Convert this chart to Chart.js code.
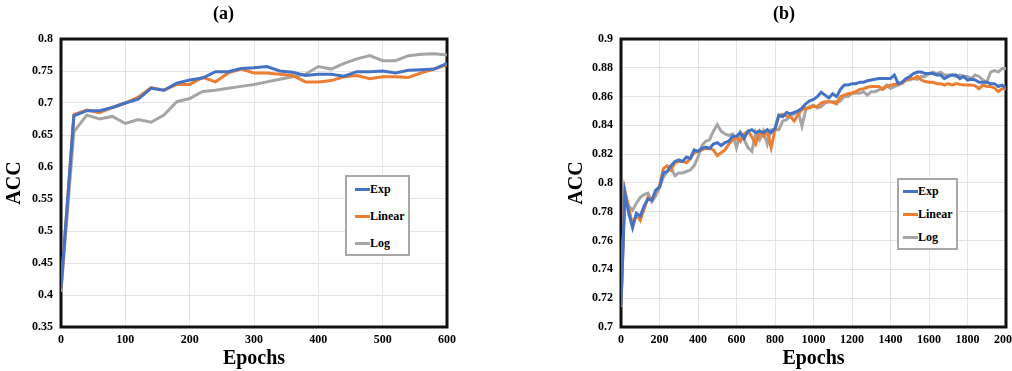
<!DOCTYPE html>
<html>
<head>
<meta charset="utf-8">
<script src="https://cdn.jsdelivr.net/npm/chart.js@4.4.0/dist/chart.umd.min.js"></script>
<style>
    html, body { margin: 0; padding: 0; background: #fff; }
    body { position: relative; width: 1012px; height: 371px; overflow: hidden; }
    .wrap { position: absolute; top: 0; height: 371px; }
    #wrapA { left: 0; width: 494px; }
    #wrapB { left: 562px; width: 500px; }
    .legend { position: absolute; background: #fff; border: 2px solid #a8a8a8; box-sizing: border-box;
              font: bold 12px 'Liberation Serif', 'Times New Roman', serif; color: #000; }
    .legend .item { position: absolute; height: 16px; display: flex; align-items: center; white-space: nowrap; }
    .legend .swatch { display: inline-block; height: 3px; }
</style>
</head>
<body>
<div class="wrap" id="wrapA"><canvas id="chartA"></canvas></div>
<div class="wrap" id="wrapB"><canvas id="chartB"></canvas></div>
<script>
const seriesNames = ['Exp', 'Linear', 'Log'];
const seriesColors = ['#4472C4', '#ED7D31', '#A5A5A5'];

// (a) 0..600 epochs
const epochsA = [0, 20, 40, 60, 80, 100, 120, 140, 160, 180, 200, 220, 240, 260, 280, 300,
    320, 340, 360, 380, 400, 420, 440, 460, 480, 500, 520, 540, 560, 580, 600];
const expA = [0.41, 0.680, 0.688, 0.688, 0.693, 0.700, 0.706, 0.723, 0.720, 0.731, 0.736, 0.739,
    0.749, 0.749, 0.754, 0.755, 0.757, 0.750, 0.748, 0.743, 0.745, 0.745, 0.742, 0.749, 0.749,
    0.750, 0.747, 0.751, 0.752, 0.753, 0.762];
const linearA = [0.41, 0.682, 0.689, 0.685, 0.693, 0.700, 0.709, 0.724, 0.720, 0.729, 0.729, 0.740,
    0.733, 0.747, 0.753, 0.747, 0.747, 0.745, 0.743, 0.733, 0.733, 0.735, 0.741, 0.743, 0.738,
    0.741, 0.741, 0.740, 0.747, 0.753, 0.760];
const logA = [0.405, 0.655, 0.681, 0.675, 0.679, 0.668, 0.674, 0.670, 0.681, 0.702, 0.707, 0.718,
    0.720, 0.723, 0.726, 0.729, 0.733, 0.737, 0.741, 0.745, 0.757, 0.753, 0.762, 0.769, 0.774,
    0.766, 0.766, 0.774, 0.776, 0.777, 0.775];

// (b) 0..2000 epochs
const epochsB = [0, 20, 40, 60, 80, 100, 120, 140, 160, 180,
    200, 220, 240, 260, 280, 300, 320, 340, 360, 380,
    400, 420, 440, 460, 480, 500, 520, 540, 560, 580,
    600, 620, 640, 660, 680, 700, 720, 740, 760, 780,
    800, 820, 840, 860, 880, 900, 920, 940, 960, 980,
    1000, 1020, 1040, 1060, 1080, 1100, 1120, 1140, 1160, 1180,
    1200, 1220, 1240, 1260, 1280, 1300, 1320, 1340, 1360, 1380,
    1400, 1420, 1440, 1460, 1480, 1500, 1520, 1540, 1560, 1580,
    1600, 1620, 1640, 1660, 1680, 1700, 1720, 1740, 1760, 1780,
    1800, 1820, 1840, 1860, 1880, 1900, 1920, 1940, 1960, 1980,
    2000];
const expB = [0.715, 0.793, 0.779, 0.769, 0.779, 0.777, 0.784, 0.789, 0.788, 0.795,
    0.797, 0.807, 0.808, 0.812, 0.815, 0.816, 0.815, 0.818, 0.817, 0.823,
    0.822, 0.824, 0.825, 0.824, 0.827, 0.828, 0.826, 0.828, 0.829, 0.8325,
    0.8325, 0.835, 0.831, 0.836, 0.837, 0.835, 0.836, 0.835, 0.837, 0.835,
    0.838, 0.847, 0.846, 0.849, 0.848, 0.849, 0.850, 0.852, 0.855, 0.857,
    0.858, 0.860, 0.863, 0.861, 0.859, 0.862, 0.860, 0.865, 0.868, 0.868,
    0.869, 0.869, 0.870, 0.870, 0.871, 0.8715, 0.872, 0.8725, 0.8725, 0.8725,
    0.8725, 0.875, 0.869, 0.870, 0.8725, 0.874, 0.876, 0.877, 0.877, 0.876,
    0.876, 0.876, 0.875, 0.875, 0.8725, 0.874, 0.875, 0.875, 0.8725, 0.874,
    0.8715, 0.872, 0.8715, 0.870, 0.870, 0.870, 0.869, 0.869, 0.867, 0.868,
    0.866];
const linearB = [0.716, 0.795, 0.783, 0.771, 0.778, 0.774, 0.782, 0.790, 0.788, 0.794,
    0.798, 0.810, 0.812, 0.809, 0.814, 0.815, 0.815, 0.814, 0.817, 0.821,
    0.822, 0.823, 0.824, 0.824, 0.823, 0.819, 0.821, 0.823, 0.827, 0.830,
    0.8315, 0.829, 0.834, 0.836, 0.832, 0.827, 0.836, 0.8325, 0.836, 0.8245,
    0.837, 0.847, 0.8475, 0.8465, 0.846, 0.843, 0.8475, 0.851, 0.852, 0.852,
    0.8535, 0.853, 0.8555, 0.8565, 0.8565, 0.856, 0.855, 0.860, 0.861, 0.862,
    0.8625, 0.8635, 0.865, 0.8655, 0.8665, 0.867, 0.867, 0.867, 0.865, 0.867,
    0.868, 0.8685, 0.869, 0.8695, 0.8715, 0.8725, 0.8725, 0.874, 0.8715, 0.8705,
    0.870, 0.870, 0.869, 0.869, 0.868, 0.869, 0.868, 0.869, 0.8685, 0.868,
    0.868, 0.868, 0.8675, 0.8655, 0.868, 0.867, 0.867, 0.866, 0.8635, 0.8655,
    0.8655];
const logB = [0.714, 0.791, 0.784, 0.781, 0.786, 0.790, 0.792, 0.793, 0.787, 0.791,
    0.797, 0.804, 0.808, 0.8105, 0.805, 0.807, 0.807, 0.808, 0.809, 0.812,
    0.818, 0.826, 0.829, 0.830, 0.836, 0.8405, 0.836, 0.834, 0.833, 0.834,
    0.8245, 0.835, 0.830, 0.8245, 0.822, 0.835, 0.830, 0.836, 0.827, 0.837,
    0.837, 0.837, 0.843, 0.844, 0.8465, 0.848, 0.850, 0.8395, 0.851, 0.853,
    0.854, 0.852, 0.853, 0.8555, 0.8565, 0.8565, 0.8565, 0.857, 0.860, 0.860,
    0.8623, 0.8623, 0.8623, 0.8634, 0.861, 0.8634, 0.8634, 0.8646, 0.8657, 0.868,
    0.8657, 0.8669, 0.868, 0.8692, 0.8715, 0.8715, 0.8726, 0.872, 0.874, 0.874,
    0.876, 0.877, 0.876, 0.877, 0.875, 0.875, 0.875, 0.874, 0.875, 0.874,
    0.874, 0.8726, 0.875, 0.874, 0.8715, 0.870, 0.877, 0.878, 0.877, 0.8795,
    0.8795];

const FONT = "'Liberation Serif', 'Times New Roman', serif";

// black frame around the plot area
const frame = {
    id: 'frame',
    beforeDatasetsDraw(chart) {
        const { ctx, chartArea: a } = chart;
        ctx.save();
        ctx.strokeStyle = '#111';
        ctx.lineWidth = 3;
        ctx.strokeRect(a.left, a.top, a.right - a.left, a.bottom - a.top);
        ctx.restore();
    }
};

function makeDatasets(epochs, lists) {
    return lists.map((vals, i) => ({
        label: seriesNames[i],
        data: vals.map((v, j) => ({ x: epochs[j], y: v })),
        borderColor: seriesColors[i],
        backgroundColor: seriesColors[i],
        borderWidth: 3,
        pointRadius: 0,
        tension: 0
    }));
}

function tickLabel(v) {
    return String(Number(v.toFixed(2)));
}

function makeChart(id, title, epochs, lists, xMax, xStep, yMin, yMax, yStep, yAxisWidth, rightPad) {
    return new Chart(document.getElementById(id), {
        type: 'line',
        data: { datasets: makeDatasets(epochs, lists) },
        plugins: [frame],
        options: {
            responsive: true,
            maintainAspectRatio: false,
            animation: false,
            layout: { padding: { left: 0, right: rightPad, top: 0, bottom: 0 } },
            plugins: {
                legend: { display: false },
                tooltip: { enabled: false },
                title: {
                    display: true,
                    text: title,
                    color: '#000',
                    font: { family: FONT, size: 18, weight: 'bold', lineHeight: 1.2 },
                    padding: { top: 4, bottom: 13.4 }
                }
            },
            scales: {
                x: {
                    type: 'linear',
                    min: 0,
                    max: xMax,
                    ticks: { stepSize: xStep, color: '#000', padding: 6, maxRotation: 0,
                             callback: v => String(v),
                             font: { family: FONT, size: 12, weight: 'bold' } },
                    grid: { color: '#e4e4e4', drawTicks: false },
                    border: { display: false },
                    title: { display: true, text: 'Epochs', color: '#000', padding: { top: 0, bottom: 0 },
                             font: { family: FONT, size: 20, weight: 'bold', lineHeight: 1.2 } },
                    afterFit(scale) { scale.height = 44; }
                },
                y: {
                    min: yMin,
                    max: yMax,
                    ticks: { stepSize: yStep, color: '#000', padding: 8, callback: tickLabel,
                             font: { family: FONT, size: 12, weight: 'bold' } },
                    grid: { color: '#e4e4e4', drawTicks: false },
                    border: { display: false },
                    title: { display: true, text: 'ACC', color: '#000', padding: { top: 3, bottom: 0 },
                             font: { family: FONT, size: 20, weight: 'bold', lineHeight: 1.2 } },
                    afterFit(scale) { scale.width = yAxisWidth; }
                }
            }
        }
    });
}

function makeLegend(chart, box) {
    const el = document.createElement('div');
    el.className = 'legend';
    el.style.left = box.left + 'px';
    el.style.top = box.top + 'px';
    el.style.width = box.width + 'px';
    el.style.height = box.height + 'px';
    chart.data.datasets.forEach((ds, i) => {
        const item = document.createElement('div');
        item.className = 'item';
        item.style.left = box.swatchLeft + 'px';
        item.style.top = (box.firstRow + i * box.rowGap - 8) + 'px';
        const sw = document.createElement('span');
        sw.className = 'swatch';
        sw.style.width = box.swatchWidth + 'px';
        sw.style.background = ds.borderColor;
        const txt = document.createElement('span');
        txt.textContent = ds.label;
        item.appendChild(sw);
        item.appendChild(txt);
        el.appendChild(item);
    });
    document.body.appendChild(el);
}

const chartA = makeChart('chartA', '(a)', epochsA, [expA, linearA, logA], 600, 100, 0.35, 0.8, 0.05, 61, 47);
const chartB = makeChart('chartB', '(b)', epochsB, [expB, linearB, logB], 2000, 200, 0.7, 0.9, 0.02, 59, 56);

makeLegend(chartA, { left: 345, top: 175, width: 65, height: 81, firstRow: 12, rowGap: 27, swatchLeft: 8, swatchWidth: 15 });
makeLegend(chartB, { left: 897, top: 178, width: 61, height: 72, firstRow: 11, rowGap: 23, swatchLeft: 4, swatchWidth: 15 });
</script>
</body>
</html>
